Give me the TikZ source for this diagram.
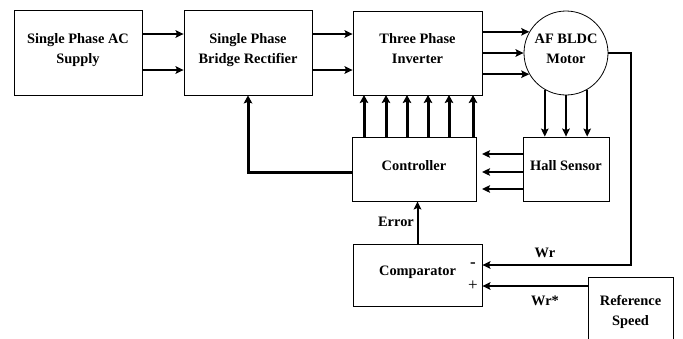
\documentclass[tikz,border=0pt]{standalone}
\usepackage{fontspec}
\setmainfont{Liberation Serif}
\usetikzlibrary{arrows.meta,positioning,calc}
\tikzset{
  blk/.style   ={rectangle, draw=black, line width=0.8pt, align=center,
                 font=\fontsize{14.4}{20}\selectfont\bfseries, inner sep=2pt, text depth=8pt},
  mot/.style   ={circle, draw=black, line width=0.8pt, align=center,
                 font=\fontsize{14.4}{20}\selectfont\bfseries, minimum size=84pt, inner sep=0pt,
                 text depth=8pt},
  fl/.style    ={-{Stealth[length=8pt,width=7.5pt,inset=1.5pt]}, line width=2pt},
  flb/.style   ={-{Stealth[length=8pt,width=8.5pt,inset=1.5pt]}, line width=3pt},
  lbl/.style   ={font=\fontsize{14.4}{20}\selectfont\bfseries, inner sep=0pt},
}
\begin{document}
\begin{tikzpicture}[x=1pt,y=-1pt]
  \useasboundingbox (0,0) rectangle (683,338);
  % power path
  \node[blk,minimum width=128pt,minimum height=85pt] (sup) at (78,52.5) {Single Phase AC\\Supply};
  \node[blk,minimum width=128pt,minimum height=85pt] (rec) at (248,52.5) {Single Phase\\Bridge Rectifier};
  \node[blk,minimum width=129pt,minimum height=84pt] (inv) at (417.5,53) {Three Phase\\Inverter};
  \node[mot] (mot) at (566,53) {AF BLDC\\Motor};
  % control path
  \node[blk,minimum width=86pt,minimum height=64pt] (hall) at (566,169) {Hall Sensor};
  \node[blk,minimum width=124pt,minimum height=64pt] (ctl) at (414,169) {Controller};
  \node[blk,minimum width=129pt,minimum height=62pt] (cmp) at (417.5,275) {Comparator};
  \node[blk,minimum width=85pt,minimum height=74pt] (ref) at (630.5,314) {Reference\\Speed};
  % two lines into and out of the rectifier
  \foreach \yy in {34,70}{
    \draw[fl] (sup.east |- 0,\yy) -- (rec.west |- 0,\yy);
    \draw[fl] (rec.east |- 0,\yy) -- (inv.west |- 0,\yy);
  }
  % three phases to the motor
  \draw[fl] (inv.east |- mot.150) -- (mot.150);
  \draw[fl] (inv.east) -- (mot.west);
  \draw[fl] (inv.east |- mot.210) -- (mot.210);
  % hall signals
  \foreach \ang in {240,270,300}
    \draw[fl] (mot.\ang) -- (mot.\ang |- hall.north);
  \foreach \yy in {154,172,189}
    \draw[fl] (hall.west |- 0,\yy) -- (482,\yy);
  % gate signals
  \foreach \xx in {364,386,407,428,449,473}
    \draw[flb] (\xx,137) -- (\xx,95);
  \draw[flb] (ctl.west |- 0,172) -| (rec.south);
  % speed loop
  \coordinate (wr) at (631,265);
  \draw[fl] (mot.east) -| (wr) -- (cmp.east |- wr);
  \draw[fl] (ref.west |- 0,286) -- (cmp.east |- 0,286);
  \draw[fl] (cmp.north) -- (cmp.north |- ctl.south);
  \node[lbl] (err) at (396,222) {Error};
  \node[lbl] (wrl) at (545,253) {Wr};
  \node[lbl] (wrs) at (545,301) {Wr*};
  \node[lbl,font=\fontsize{17}{20}\selectfont\bfseries] (mns) at (473,265) {-};
  \node[lbl,font=\fontsize{17}{20}\selectfont] (pls) at (473,286) {+};
\end{tikzpicture}
\end{document}
